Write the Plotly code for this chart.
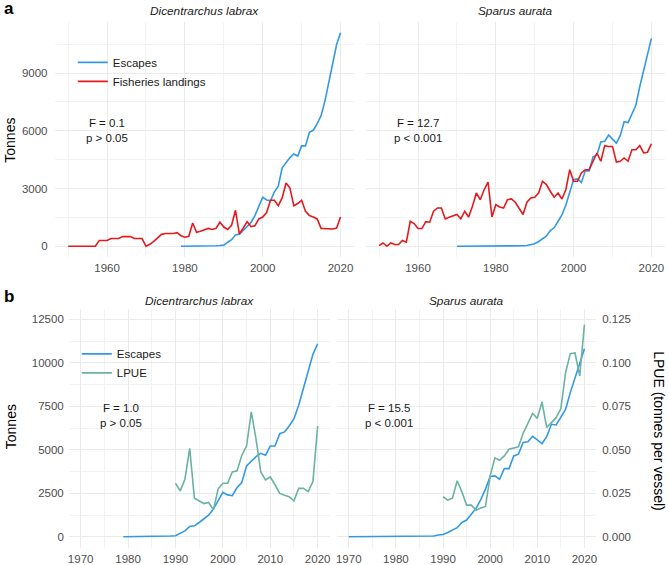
import plotly.graph_objects as go

# ==========================
# DATA
# ==========================

years_landings = list(range(1950, 2021))
years_escapes_labrax = list(range(1979, 2021))
years_escapes_aurata = list(range(1970, 2021))
years_lpue = list(range(1990, 2021))

landings_labrax = [
    0, 0, 0, 0, 0, 0, 0, 0, 300, 300,
    300, 400, 400, 400, 500, 500, 500, 400, 400, 400,
    0, 100, 250, 430, 620, 660, 660, 660, 710, 550,
    470, 520, 1210, 730, 780, 870, 930, 870, 930, 1250,
    1000, 870, 1090, 1870, 640, 950, 1280, 1020, 1070, 1420,
    1520, 1750, 2390, 2390, 2110, 2510, 3290, 3030, 2110, 2220,
    2390, 1820, 1600, 1520, 1420, 930, 920, 900, 900, 950,
    1520,
]

landings_aurata = [
    30, 170, 0, 170, 90, 90, 300, 210, 1300, 1180,
    920, 920, 1280, 1250, 1820, 1990, 1990, 1420, 1510, 1590,
    1650, 1420, 1820, 1520, 2080, 2770, 2420, 2940, 3340, 1520,
    2160, 2040, 1990, 2420, 2460, 2290, 1990, 1650, 2290, 2510,
    2550, 2770, 3380, 3210, 2860, 2550, 2770, 2460, 2940, 3980,
    3380, 3380, 3810, 3980, 3980, 4420, 4850, 4420, 5230, 5190,
    5190, 4380, 4420, 4590, 4420, 5020, 5020, 5230, 4850, 4890,
    5330,
]

escapes_labrax = [
    0, 0, 0, 0, 0, 5, 10, 15, 20, 30, 40,
    60, 210, 340, 590, 630, 820, 1010, 1240, 1590, 2070,
    2550, 2410, 2360, 2830, 3120, 4080, 4360, 4610, 4800, 4690,
    5220, 5220, 5930, 6030, 6370, 6790, 7560, 8570, 9530, 10490,
    11100,
]

escapes_aurata = [
    0, 0, 0, 0, 0, 0, 0, 0, 0, 0,
    0, 0, 0, 0, 5, 10, 15, 25, 40, 100,
    130, 250, 380, 520, 820, 960, 1300, 1630, 2130, 2740,
    3470, 3500, 3310, 3920, 3920, 4650, 4750, 5420, 5460, 5780,
    5570, 5360, 5760, 6470, 6430, 6850, 7330, 8290, 9090, 10010,
    10810,
]

lpue_labrax = [
    0.0308, 0.0264, 0.0331, 0.0509, 0.0222, 0.0207, 0.0191, 0.0197, 0.0155, 0.0274,
    0.0308, 0.0308, 0.0373, 0.0379, 0.0469, 0.0522, 0.0718, 0.0561, 0.0373, 0.0327,
    0.0344, 0.0299, 0.0249, 0.0239, 0.0230, 0.0207, 0.0278, 0.0278, 0.0260, 0.0318,
    0.0637,
]

lpue_aurata = [
    0.0230, 0.0211, 0.0222, 0.0322, 0.0258, 0.0182, 0.0182, 0.0153, 0.0165, 0.0174,
    0.0350, 0.0454, 0.0440, 0.0465, 0.0503, 0.0509, 0.0517, 0.0595, 0.0656, 0.0710,
    0.0681, 0.0775, 0.0628, 0.0656, 0.0685, 0.0737, 0.0944, 0.1053, 0.1057, 0.0925,
    0.1221,
]

species = ["Dicentrarchus labrax", "Sparus aurata"]
stats_a = ["F = 0.1<br>p > 0.05", "F = 12.7<br>p < 0.001"]
stats_b = ["F = 1.0<br>p > 0.05", "F = 15.5<br>p < 0.001"]
lpue_ticks = [0, 0.025, 0.05, 0.075, 0.1, 0.125]

# ==========================
# STYLE
# ==========================

W, H = 669, 565
BLUE = "#3399E6"
RED = "#E41A1C"
GREEN = "#69B3A2"
FONT = "Liberation Sans, Arial, sans-serif"
TICK = dict(family=FONT, size=11.5, color="#4D4D4D")


def px_x(a, b):
    return [a / W, b / W]


def px_y(top, bottom):
    return [1 - bottom / H, 1 - top / H]


fig = go.Figure()

# ==========================
# PANEL a
# ==========================

esc_years = [years_escapes_labrax, years_escapes_aurata]
esc_vals = [escapes_labrax, escapes_aurata]
land_vals = [landings_labrax, landings_aurata]

for i in range(2):
    xa = "x" if i == 0 else "x2"
    ya = "y" if i == 0 else "y2"
    fig.add_trace(go.Scatter(
        x=esc_years[i], y=esc_vals[i], mode="lines", name="Escapes",
        line=dict(color=BLUE, width=1.6), xaxis=xa, yaxis=ya,
        legend="legend", showlegend=(i == 0)))
    fig.add_trace(go.Scatter(
        x=years_landings, y=land_vals[i], mode="lines", name="Fisheries landings",
        line=dict(color=RED, width=1.6), xaxis=xa, yaxis=ya,
        legend="legend", showlegend=(i == 0)))

# ==========================
# PANEL b
# ==========================

lpue_vals = [lpue_labrax, lpue_aurata]

for i in range(2):
    xa = "x3" if i == 0 else "x4"
    ya = "y3" if i == 0 else "y4"
    ya2 = "y6" if i == 0 else "y5"
    fig.add_trace(go.Scatter(
        x=years_lpue, y=lpue_vals[i], mode="lines", name="LPUE",
        line=dict(color=GREEN, width=1.6), xaxis=xa, yaxis=ya2,
        legend="legend2", showlegend=(i == 0)))
    fig.add_trace(go.Scatter(
        x=esc_years[i], y=esc_vals[i], mode="lines", name="Escapes",
        line=dict(color=BLUE, width=1.6), xaxis=xa, yaxis=ya,
        legend="legend2", showlegend=(i == 0), legendrank=1))

# ==========================
# AXES
# ==========================

grid = dict(showgrid=True, gridcolor="#EBEBEB", gridwidth=1.1, zeroline=False,
            showline=False, ticks="", tickfont=TICK, tickformat="d")
minor = dict(showgrid=True, gridcolor="#F2F2F2", gridwidth=0.6)

xa_a = dict(grid, range=[1946.5, 2023.5], tick0=1960, dtick=20,
            minor=dict(minor, dtick=10, tick0=1950), ticklabelstandoff=3)
ya_a = dict(grid, range=[-555, 11655], tick0=0, dtick=3000,
            minor=dict(minor, dtick=1500, tick0=0), ticklabelstandoff=6)
xa_b = dict(grid, range=[1967.5, 2022.5], tick0=1970, dtick=10,
            minor=dict(minor, dtick=5, tick0=1965), ticklabelstandoff=3)
ya_b = dict(grid, range=[-625, 13125], tick0=0, dtick=2500,
            minor=dict(minor, dtick=1250, tick0=0), ticklabelstandoff=4)

lpue_range = [-625 / 100000, 13125 / 100000]

fig.update_layout(
    xaxis=dict(xa_a, domain=px_x(53.7, 354.2), anchor="y"),
    xaxis2=dict(xa_a, domain=px_x(365.6, 666), anchor="y2"),
    yaxis=dict(ya_a, domain=px_y(22.1, 257.4), anchor="x"),
    yaxis2=dict(ya_a, domain=px_y(22.1, 257.4), anchor="x2", showticklabels=False),
    xaxis3=dict(xa_b, domain=px_x(68, 329.5), anchor="y3"),
    xaxis4=dict(xa_b, domain=px_x(337, 597), anchor="y4"),
    yaxis3=dict(ya_b, domain=px_y(309.1, 548.6), anchor="x3"),
    yaxis4=dict(ya_b, domain=px_y(309.1, 548.6), anchor="x4", showticklabels=False),
    yaxis5=dict(range=lpue_range, overlaying="y4", anchor="x4", side="right",
                showgrid=False, zeroline=False, ticks="", tickvals=lpue_ticks,
                tickformat=".3f", tickfont=TICK, ticklabelstandoff=5),
    yaxis6=dict(range=lpue_range, overlaying="y3", anchor="x3", visible=False),
)

# ==========================
# TEXT
# ==========================

ann = []
dark = "#1A1A1A"
strip_x_a = [(53.7 + 354.2) / 2 / W, (365.6 + 666) / 2 / W]
strip_x_b = [(68 + 329.5) / 2 / W, (337 + 597) / 2 / W]
for i in range(2):
    ann.append(dict(text="<i>" + species[i] + "</i>", x=strip_x_a[i], y=1 - 11 / H,
                    xref="paper", yref="paper", showarrow=False,
                    xanchor="center", yanchor="middle",
                    font=dict(family=FONT, size=11.8, color=dark)))
    ann.append(dict(text="<i>" + species[i] + "</i>", x=strip_x_b[i], y=1 - 302 / H,
                    xref="paper", yref="paper", showarrow=False,
                    xanchor="center", yanchor="middle",
                    font=dict(family=FONT, size=11.8, color=dark)))
    ann.append(dict(text=stats_a[i], x=1960, y=6000,
                    xref="x" if i == 0 else "x2", yref="y" if i == 0 else "y2",
                    showarrow=False, align="center",
                    font=dict(family=FONT, size=11.5, color=dark)))
    ann.append(dict(text=stats_b[i], x=1978.5, y=7000,
                    xref="x3" if i == 0 else "x4", yref="y3" if i == 0 else "y4",
                    showarrow=False, align="center",
                    font=dict(family=FONT, size=11.5, color=dark)))

side = dict(xref="paper", yref="paper", showarrow=False,
            xanchor="center", yanchor="middle")
ann.append(dict(side, text="Tonnes", x=9 / W, y=1 - 140 / H, textangle=-90,
                font=dict(family=FONT, size=14, color="#000000")))
ann.append(dict(side, text="Tonnes", x=10 / W, y=1 - 427 / H, textangle=-90,
                font=dict(family=FONT, size=14, color="#000000")))
ann.append(dict(side, text="LPUE (tonnes per vessel)", x=660 / W, y=1 - 432 / H,
                textangle=90, font=dict(family=FONT, size=14, color="#000000")))
ann.append(dict(side, text="<b>a</b>", x=8 / W, y=1 - 9 / H,
                font=dict(family=FONT, size=17, color="#000000")))
ann.append(dict(side, text="<b>b</b>", x=8 / W, y=1 - 297 / H,
                font=dict(family=FONT, size=17, color="#000000")))

legend_style = dict(bgcolor="rgba(0,0,0,0)", borderwidth=0, xanchor="left",
                    yanchor="top", font=dict(family=FONT, size=11.5, color=dark),
                    tracegroupgap=0, traceorder="normal")

fig.update_layout(
    width=W, height=H,
    margin=dict(l=0, r=0, t=0, b=0),
    paper_bgcolor="white", plot_bgcolor="white",
    annotations=ann,
    legend=dict(legend_style, x=72 / W, y=1 - 48 / H),
    legend2=dict(legend_style, x=76 / W, y=1 - 340 / H),
    font=dict(family=FONT),
)

# page body has a default margin; drop it so the figure fills the window
fig.write_html("out.html", config={"displayModeBar": False},
               post_script="document.body.style.margin = '0';")
